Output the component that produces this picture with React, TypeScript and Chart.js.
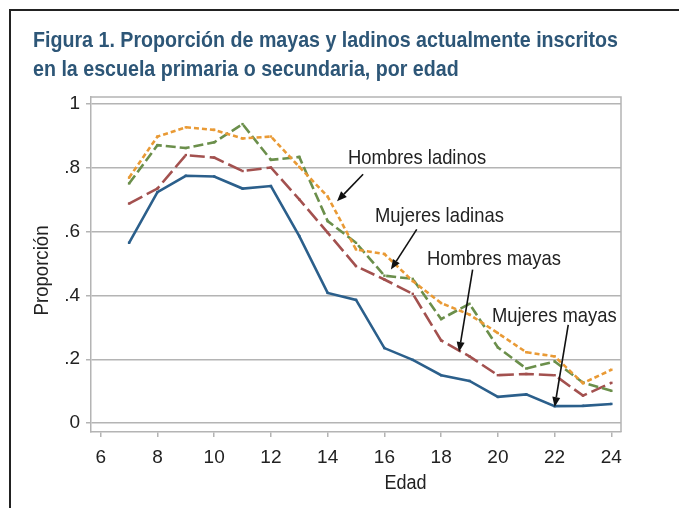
import { useEffect, useRef } from "react";
import { Chart, registerables } from "chart.js";

Chart.register(...registerables);

// ---- Data ----
const ages = [7, 8, 9, 10, 11, 12, 13, 14, 15, 16, 17, 18, 19, 20, 21, 22, 23, 24];
const mujeresMayas = [0.565, 0.724, 0.775, 0.773, 0.735, 0.743, 0.586, 0.408, 0.386, 0.235, 0.198, 0.15, 0.132, 0.082, 0.09, 0.053, 0.054, 0.06];
const hombresMayas = [0.688, 0.735, 0.84, 0.832, 0.79, 0.801, 0.701, 0.597, 0.492, 0.45, 0.405, 0.259, 0.209, 0.15, 0.154, 0.15, 0.086, 0.126];
const mujeresLadinas = [0.751, 0.871, 0.862, 0.88, 0.937, 0.825, 0.834, 0.633, 0.565, 0.462, 0.452, 0.326, 0.374, 0.237, 0.171, 0.193, 0.127, 0.101];
const hombresLadinos = [0.769, 0.898, 0.927, 0.919, 0.892, 0.898, 0.803, 0.71, 0.544, 0.53, 0.445, 0.376, 0.34, 0.282, 0.222, 0.209, 0.125, 0.167];

const xTicks = [6, 8, 10, 12, 14, 16, 18, 20, 22, 24];
const yTicks = [0, 0.2, 0.4, 0.6, 0.8, 1];
const yTickLabels = ["0", ".2", ".4", ".6", ".8", "1"];

const titleLines = [
  "Figura 1. Proporción de mayas y ladinos actualmente inscritos",
  "en la escuela primaria o secundaria, por edad",
];
const xTitle = "Edad";
const yTitle = "Proporción";

// annotation labels (left x, baseline y in data units) and arrows (start -> tip)
const annotationTexts = ["Hombres ladinos", "Mujeres ladinas", "Hombres mayas", "Mujeres mayas"];
const annotationAnchorX = [14.72, 15.67, 17.5, 19.79];
const annotationAnchorY = [0.811, 0.629, 0.497, 0.318];
const arrowStartX = [15.25, 17.14, 19.11, 22.48];
const arrowStartY = [0.78, 0.607, 0.481, 0.308];
const arrowEndX = [14.33, 16.23, 18.63, 22.0];
const arrowEndY = [0.695, 0.481, 0.223, 0.05];

const BLUE = "#2b5f8b";
const RED = "#a3514f";
const GREEN = "#6b8f4b";
const ORANGE = "#e99a35";
const TITLE = "#2d5677";
const GRID = "#b4b4b4";
const FONT = '"Liberation Sans", Arial, sans-serif';

function toPoints(vals: number[]) {
  return ages.map((a, i) => ({ x: a, y: vals[i] }));
}

function condensed(ctx: CanvasRenderingContext2D, text: string, x: number, y: number, k: number) {
  ctx.save();
  ctx.translate(x, y);
  ctx.scale(k, 1);
  ctx.fillText(text, 0, 0);
  ctx.restore();
}

const decorPlugin = {
  id: "decor",
  beforeDatasetsDraw(chart: any) {
    const { ctx, chartArea } = chart;
    ctx.save();
    ctx.strokeStyle = GRID;
    ctx.lineWidth = 1.5;
    ctx.beginPath();
    ctx.moveTo(chartArea.left, chartArea.top);
    ctx.lineTo(chartArea.right, chartArea.top);
    ctx.lineTo(chartArea.right, chartArea.bottom);
    ctx.stroke();
    ctx.restore();
  },
  afterDraw(chart: any) {
    const { ctx, chartArea } = chart;
    const xs = chart.scales.x;
    const ys = chart.scales.y;
    ctx.save();
    // outer frame
    ctx.strokeStyle = "#222";
    ctx.lineWidth = 2;
    ctx.beginPath();
    ctx.moveTo(9, 10);
    ctx.lineTo(679, 10);
    ctx.moveTo(10, 9);
    ctx.lineTo(10, 508);
    ctx.stroke();

    // title
    ctx.fillStyle = TITLE;
    ctx.font = "bold 22px " + FONT;
    ctx.textAlign = "left";
    ctx.textBaseline = "alphabetic";
    const k = 585 / ctx.measureText(titleLines[0]).width;
    condensed(ctx, titleLines[0], 33, 47, k);
    condensed(ctx, titleLines[1], 33, 75.5, k);

    // axis titles
    ctx.fillStyle = "#222";
    ctx.font = "20px " + FONT;
    ctx.textAlign = "center";
    ctx.textBaseline = "middle";
    condensed(ctx, xTitle, 365 / 0.9, 483, 0.9);
    ctx.save();
    ctx.translate(42, (chartArea.top + chartArea.bottom) / 2 + 6);
    ctx.rotate(-Math.PI / 2);
    ctx.scale(0.93, 1);
    ctx.fillText(yTitle, 0, 0);
    ctx.restore();

    // annotations
    ctx.font = "21px " + FONT;
    ctx.textAlign = "left";
    ctx.textBaseline = "alphabetic";
    annotationTexts.forEach((t, i) => {
      condensed(ctx, t, xs.getPixelForValue(annotationAnchorX[i]), ys.getPixelForValue(annotationAnchorY[i]), 0.876);
    });

    // arrows
    ctx.strokeStyle = "#111";
    ctx.fillStyle = "#111";
    ctx.lineWidth = 1.6;
    annotationTexts.forEach((_, i) => {
      const x0 = xs.getPixelForValue(arrowStartX[i]);
      const y0 = ys.getPixelForValue(arrowStartY[i]);
      const x1 = xs.getPixelForValue(arrowEndX[i]);
      const y1 = ys.getPixelForValue(arrowEndY[i]);
      const ang = Math.atan2(y1 - y0, x1 - x0);
      const L = 10;
      const W = 4;
      const bx = x1 - L * Math.cos(ang);
      const by = y1 - L * Math.sin(ang);
      ctx.beginPath();
      ctx.moveTo(x0, y0);
      ctx.lineTo(bx, by);
      ctx.stroke();
      ctx.beginPath();
      ctx.moveTo(x1, y1);
      ctx.lineTo(bx + W * Math.sin(ang), by - W * Math.cos(ang));
      ctx.lineTo(bx - W * Math.sin(ang), by + W * Math.cos(ang));
      ctx.closePath();
      ctx.fill();
    });
    ctx.restore();
  },
};

function series(label: string, vals: number[], color: string, dash: number[]) {
  return {
    label,
    data: toPoints(vals),
    borderColor: color,
    backgroundColor: color,
    borderWidth: 2.6,
    borderDash: dash,
    pointStyle: "rect" as const,
    pointRadius: 1.7,
    pointBorderWidth: 0,
    pointBackgroundColor: color,
    tension: 0,
    fill: false,
  };
}

export default function App() {
  const ref = useRef<HTMLCanvasElement>(null);

  useEffect(() => {
    if (!ref.current) return;
    const chart = new Chart(ref.current, {
      type: "line",
      data: {
        datasets: [
          series("Hombres ladinos", hombresLadinos, ORANGE, [5, 3]),
          series("Mujeres ladinas", mujeresLadinas, GREEN, [10, 4]),
          series("Hombres mayas", hombresMayas, RED, [15, 5]),
          series("Mujeres mayas", mujeresMayas, BLUE, []),
        ],
      },
      options: {
        animation: false,
        responsive: false,
        devicePixelRatio: 1,
        layout: { padding: { top: 97, right: 58, left: 0, bottom: 0 } },
        plugins: {
          legend: { display: false },
          tooltip: { enabled: false },
          title: { display: false },
        },
        scales: {
          x: {
            type: "linear",
            min: 5.658,
            max: 24.34,
            afterBuildTicks: (s: any) => {
              s.ticks = xTicks.map((v) => ({ value: v }));
            },
            afterFit: (s: any) => {
              s.height = 76;
            },
            grid: { drawOnChartArea: false, drawTicks: true, tickLength: 5, color: GRID, lineWidth: 1.5 },
            border: { display: true, color: GRID, width: 1.5 },
            ticks: {
              autoSkip: false,
              maxRotation: 0,
              padding: 9,
              color: "#222",
              font: { family: FONT, size: 19 },
              callback: (v: any) => String(v),
            },
          },
          y: {
            type: "linear",
            min: -0.028,
            max: 1.022,
            afterBuildTicks: (s: any) => {
              s.ticks = yTicks.map((v) => ({ value: v }));
            },
            afterFit: (s: any) => {
              s.width = 91;
            },
            grid: { drawTicks: true, tickLength: 5, color: GRID, lineWidth: 1.5 },
            border: { display: true, color: GRID, width: 1.5 },
            ticks: {
              autoSkip: false,
              padding: 6,
              color: "#222",
              font: { family: FONT, size: 19 },
              callback: (v: any) => {
                const i = yTicks.findIndex((t) => Math.abs(t - v) < 1e-6);
                return i >= 0 ? yTickLabels[i] : "";
              },
            },
          },
        },
      },
      plugins: [decorPlugin],
    });
    return () => chart.destroy();
  }, []);

  return (
    <div style={{ position: "absolute", left: 0, top: 0, width: 679, height: 508, background: "#fff" }}>
      <canvas ref={ref} width={679} height={508} style={{ display: "block" }} />
    </div>
  );
}
